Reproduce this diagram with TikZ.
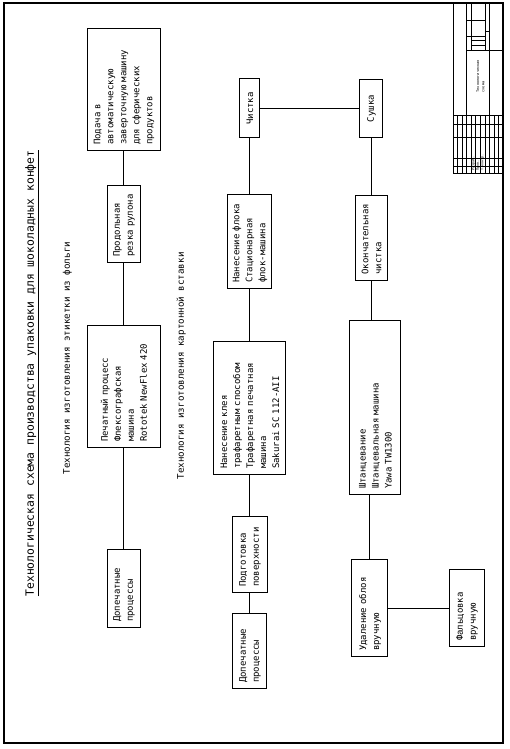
\documentclass[tikz,border=0pt]{standalone}
\usepackage{fontspec}
\usepackage{tikz}
\usetikzlibrary{positioning}
\newfontfamily\cadfont{DejaVu Sans Mono}

\begin{document}
\begin{tikzpicture}[-,x=1pt,y=1pt,rotate=90,transform shape,auto,node distance=40pt,
		line width=1pt,
		main node/.style={rectangle,draw,align=left,inner xsep=6pt,inner ysep=2pt,
			font=\cadfont\fontsize{9}{13}\selectfont},
		label node/.style={inner sep=0pt,anchor=base west,font=\cadfont\fontsize{9.2}{11}\selectfont},
		stamp text/.style={inner sep=0pt,anchor=west,font=\cadfont\fontsize{3.4}{5}\selectfont},
		stamp/.style={line width=0.6pt}]
		\useasboundingbox (0,0) rectangle (749,509);
		\draw[line width=1.2pt] (6,6) rectangle (746,505);
		% foil label line
		\node[main node,text width=66pt,minimum height=33pt] (1) at (160,385) {Допечатные\\процессы};
		\node[main node,text width=110pt,minimum height=73pt] (2) [right=101pt of 1] {Печатный процесс\\Флексографская\\машина\\Rototek NewFlex 420};
		\node[main node,text width=65pt,minimum height=33pt] (3) [right=62pt of 2] {Продольная\\резка рулона};
		\node[main node,text width=110pt,minimum height=73pt] (4) [right=34pt of 3] {Подача в\\автоматическую\\заверточную машину\\для сферических\\продуктов};
		% cardboard insert line
		\node[main node,text width=63pt,minimum height=34pt] (5) at (97.5,259) {Допечатные\\процессы};
		\node[main node,text width=64pt,minimum height=35pt] (6) [right=20pt of 5] {Подготовка\\поверхности};
		\node[main node,text width=121pt,minimum height=72pt] (7) [right=41pt of 6] {Нанесение клея\\трафаретным способом\\Трафаретная печатная\\машина\\Sakurai SC 112-AII};
		\node[main node,text width=82pt,minimum height=44pt] (8) [right=52pt of 7] {Нанесение флока\\Стационарная\\флок-машина};
		\node[main node,text width=47pt,minimum height=20pt,align=center] (9) [right=56pt of 8] {Чистка};
		\node[main node,text width=46pt,minimum height=23pt,align=center] (10) [below=99pt of 9] {Сушка};
		\node[main node,text width=73pt,minimum height=32pt] (11) [left=57pt of 10] {Окончательная\\чистка};
		\node[main node,text width=162pt,minimum height=51pt] (12) at (341,133.5) {Штанцевание\\Штанцевальная машина\\Yawa TW1300};
		\node[main node,text width=85pt,minimum height=36pt] (13) [left=64pt of 12,yshift=5.5pt] {Удаление облоя\\вручную};
		\node[main node,text width=65pt,minimum height=34pt] (14) [below=61pt of 13] {Фальцовка\\вручную};
		\path
		(1) edge (2)
		(2) edge (3)
		(3) edge (4)
		
		(5) edge (6)
		(6) edge (7)
		(7) edge (8)
		(8) edge (9)
		
		(9) edge (10)
		(10) edge (11)
		(13) edge (14);
		\draw (11) -- (11 -| 12.east);
		\draw (13) -- (13 -| 12.west);
		% titles
		\node[label node,font=\cadfont\fontsize{11.4}{14}\selectfont] (title) at (152,475) {\underline{Технологическая схема производства упаковки для шоколадных конфет}};
		\node[label node] (foil) at (274,439) {Технология изготовления этикетки из фольги};
		\node[label node] (card) at (269,325) {Технология изготовления картонной вставки};
		% title block
		\draw[stamp] (576,6) rectangle (746,56);
		\draw[stamp] (634,6) -- (634,56)
		(582.2,6) -- (582.2,56) (591.1,6) -- (591.1,56) (611.6,6) -- (611.6,56) (625,6) -- (625,56)
		(576,10.5) -- (634,10.5) (576,15.1) -- (634,15.1) (576,19.6) -- (634,19.6)
		(576,24.2) -- (634,24.2) (576,28.7) -- (634,28.7) (576,33.3) -- (634,33.3)
		(576,37.8) -- (634,37.8) (576,42.4) -- (634,42.4) (576,46.9) -- (634,46.9)
		(576,51.5) -- (634,51.5);
		\draw[stamp] (634,42.4) -- (746,42.4)
		(699,6) -- (699,42.4)
		(699,37.9) -- (746,37.9)
		(699,24.2) -- (746,24.2)
		(634,19.3) -- (746,19.3)
		(703.7,24.2) -- (703.7,37.9) (708.4,24.2) -- (708.4,37.9)
		(713.1,24.2) -- (713.1,42.4) (729.1,24.2) -- (729.1,42.4)
		(717.8,19.3) -- (717.8,24.2);
		\node[stamp text,anchor=north west,align=left,font=\cadfont\fontsize{3.6}{5.2}\selectfont] (name) at (656,33) {Технологическая\\схема};
		\node[stamp text] (dev) at (577.5,35.5) {Разраб.};
		\node[stamp text] (chk) at (577.5,31) {Пров.};
		\node[stamp text] (tch) at (577.5,26.4) {Т.контр.};
\end{tikzpicture}
\end{document}
